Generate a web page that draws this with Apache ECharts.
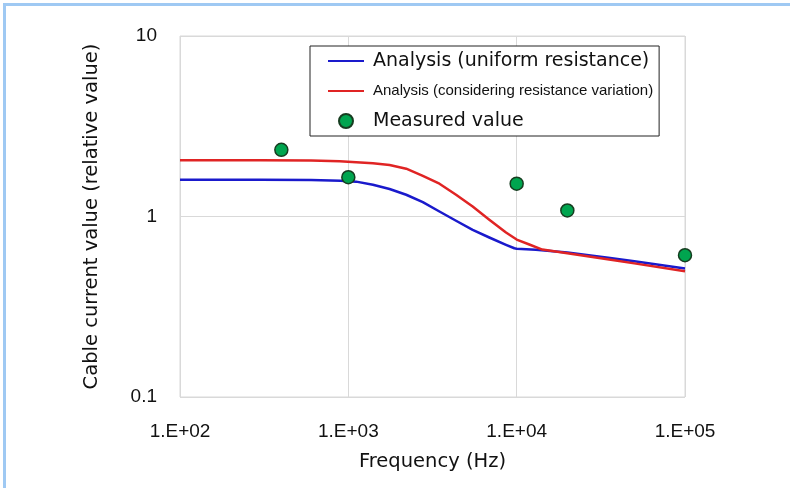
<!DOCTYPE html>
<html>
<head>
<meta charset="utf-8">
<script src="https://cdn.jsdelivr.net/npm/echarts@6/dist/echarts.min.js"></script>
<style>
html,body{margin:0;padding:0;background:#fff;}
#chart{width:790px;height:488px;}
</style>
</head>
<body>
<div id="chart"></div>
<script>
// Data
const xTickLabels = ['1.E+02', '1.E+03', '1.E+04', '1.E+05'];
const yTickLabels = ['0.1', '1', '10'];

const uniformFreq = [100, 300, 600, 900, 1114, 1400, 1758, 2207, 2770, 3477, 4364, 5478, 6878, 8643, 9690, 10000, 13000, 20000, 35000, 50000, 100000];
const uniformVals = [1.60, 1.60, 1.595, 1.58, 1.56, 1.50, 1.42, 1.32, 1.20, 1.066, 0.947, 0.844, 0.765, 0.697, 0.667, 0.662, 0.655, 0.632, 0.59, 0.565, 0.515];

const variationFreq = [100, 300, 600, 888, 1114, 1400, 1758, 2207, 2770, 3477, 4364, 5478, 6878, 8643, 10000, 11890, 14200, 20000, 35400, 50000, 100000];
const variationVals = [2.05, 2.05, 2.04, 2.025, 2.0, 1.97, 1.93, 1.84, 1.68, 1.52, 1.32, 1.135, 0.96, 0.815, 0.745, 0.70, 0.656, 0.625, 0.578, 0.55, 0.497];

const measuredFreq = [400, 1000, 10000, 20000, 100000];
const measuredVals = [2.34, 1.65, 1.52, 1.08, 0.61];

const seriesNames = ['Analysis (uniform resistance)', 'Analysis (considering resistance variation)', 'Measured value'];

function pairs(xs, ys) { return xs.map((x, i) => [x, ys[i]]); }

const chart = echarts.init(document.getElementById('chart'), null, {renderer: 'canvas'});
const gridColor = '#d9d9d9';

chart.setOption({
  animation: false,
  backgroundColor: '#ffffff',
  grid: {left: 180, right: 105, top: 36, bottom: 91, show: true, borderColor: gridColor, borderWidth: 1},
  graphic: [
    {type: 'rect', shape: {x: 3, y: 3, width: 787, height: 3}, style: {fill: '#9fc9f3'}, silent: true},
    {type: 'rect', shape: {x: 3, y: 3, width: 3, height: 485}, style: {fill: '#9fc9f3'}, silent: true}
  ],
  legend: {
    left: 310, top: 46,
    orient: 'vertical',
    backgroundColor: '#fff',
    borderColor: '#222', borderWidth: 1,
    padding: [5, 6, 5, 17],
    itemWidth: 36, itemHeight: 14, itemGap: 10,
    textStyle: {color: '#111', fontFamily: 'DejaVu Sans', fontSize: 19, lineHeight: 20, padding: [0, 0, 0, 4]},
    data: [
      {name: seriesNames[0], itemStyle: {opacity: 0}, textStyle: {fontFamily: 'DejaVu Sans', fontSize: 19, lineHeight: 20}},
      {name: seriesNames[1], itemStyle: {opacity: 0}, textStyle: {fontFamily: 'Liberation Sans', fontSize: 15, lineHeight: 20}},
      {name: seriesNames[2], itemStyle: {opacity: 1}, textStyle: {fontFamily: 'DejaVu Sans', fontSize: 19, lineHeight: 20}}
    ]
  },
  xAxis: {
    type: 'log', logBase: 10, min: 100, max: 100000,
    name: 'Frequency (Hz)', nameLocation: 'middle', nameGap: 55,
    nameTextStyle: {color: '#111', fontFamily: 'DejaVu Sans', fontSize: 19.5},
    axisLine: {show: false}, axisTick: {show: false}, minorTick: {show: false},
    splitLine: {show: true, lineStyle: {color: gridColor, width: 1}},
    axisLabel: {
      color: '#111', fontFamily: 'Liberation Sans', fontSize: 19, margin: 25,
      formatter: v => xTickLabels[Math.round(Math.log10(v)) - 2]
    }
  },
  yAxis: {
    type: 'log', logBase: 10, min: 0.1, max: 10,
    name: 'Cable current value (relative value)', nameLocation: 'middle', nameGap: 78,
    nameTextStyle: {color: '#111', fontFamily: 'DejaVu Sans', fontSize: 19.5},
    axisLine: {show: false}, axisTick: {show: false},
    splitLine: {show: true, lineStyle: {color: gridColor, width: 1}},
    axisLabel: {
      color: '#111', fontFamily: 'Liberation Sans', fontSize: 19, margin: 23,
      formatter: v => yTickLabels[Math.round(Math.log10(v)) + 1]
    }
  },
  series: [
    {
      name: seriesNames[0], type: 'line', data: pairs(uniformFreq, uniformVals),
      symbol: 'none', smooth: false, z: 3,
      lineStyle: {color: '#1a1acc', width: 2.5, join: 'round'}, itemStyle: {color: '#1a1acc'}
    },
    {
      name: seriesNames[1], type: 'line', data: pairs(variationFreq, variationVals),
      symbol: 'none', smooth: false, z: 4,
      lineStyle: {color: '#e02424', width: 2.5, join: 'round'}, itemStyle: {color: '#e02424'}
    },
    {
      name: seriesNames[2], type: 'scatter', data: pairs(measuredFreq, measuredVals),
      symbol: 'circle', symbolSize: 13, z: 5,
      itemStyle: {color: '#00a54f', opacity: 1, borderColor: '#163d20', borderWidth: 1.5}
    }
  ]
});
</script>
</body>
</html>
